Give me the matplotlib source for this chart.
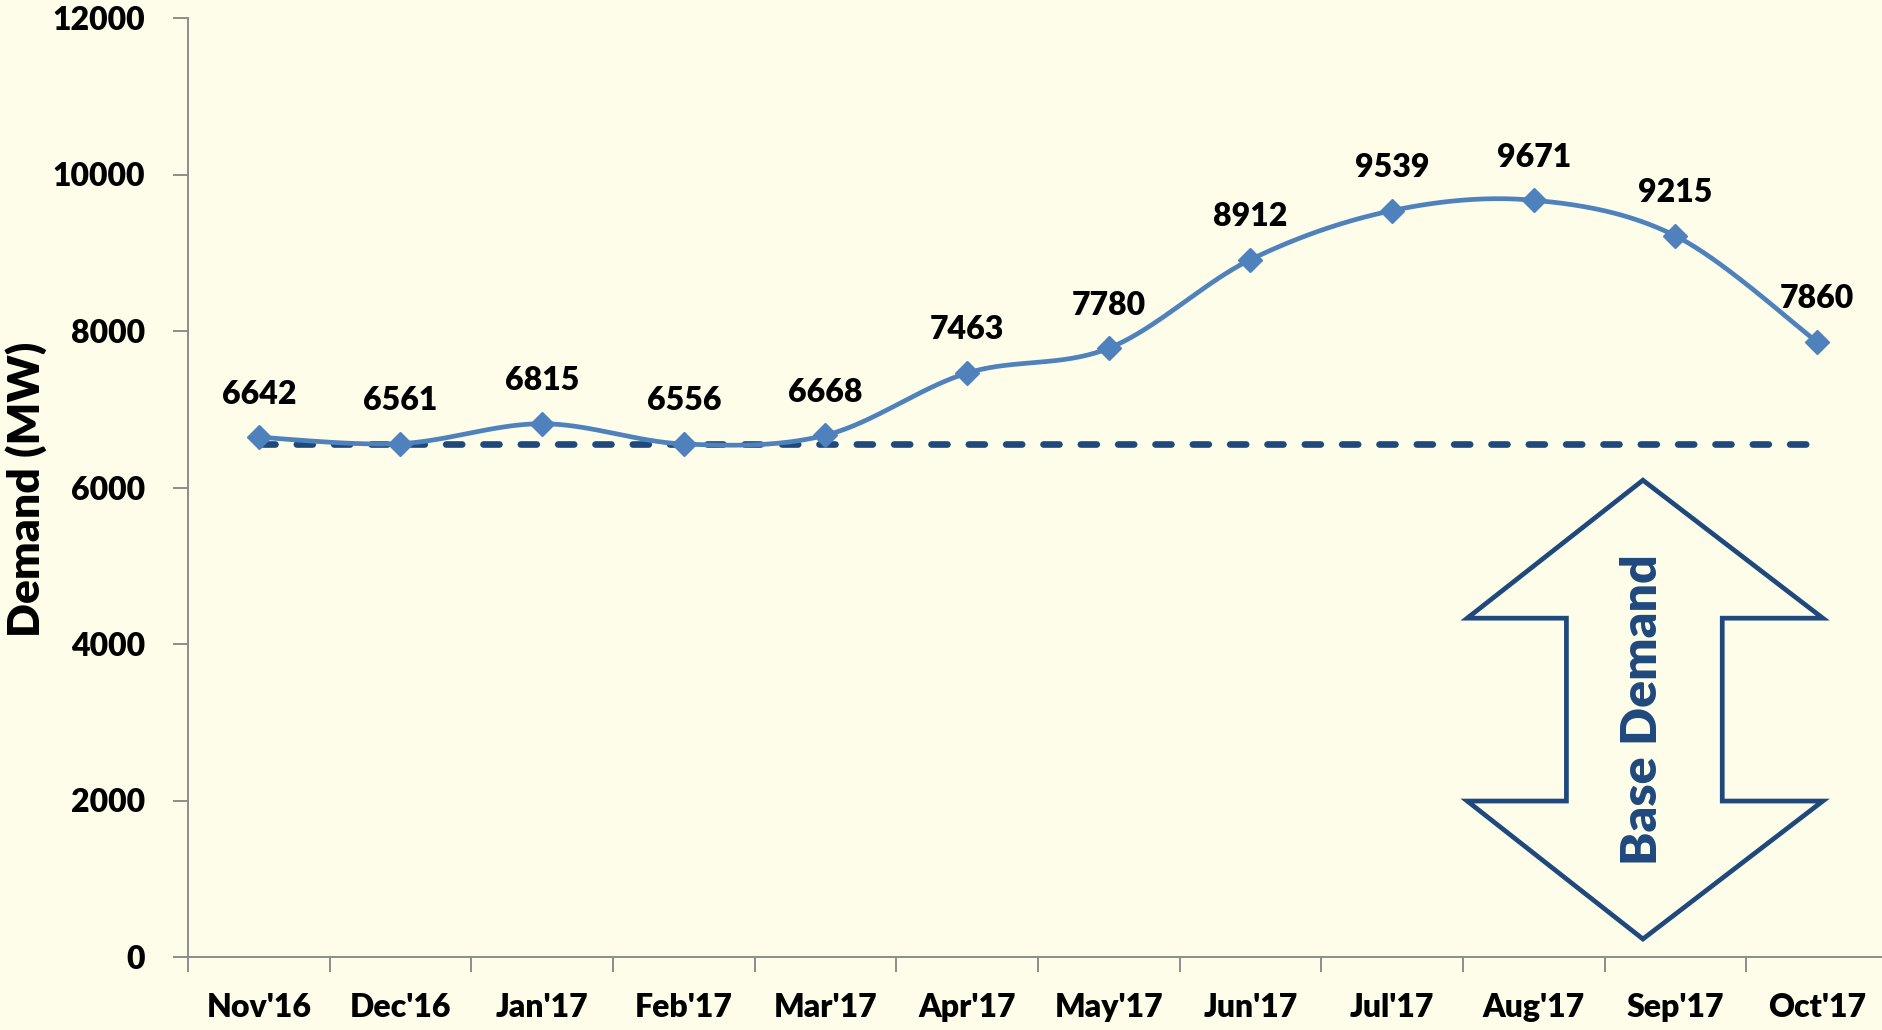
import numpy as np
import matplotlib
matplotlib.use("Agg")
import matplotlib.pyplot as plt
from matplotlib.patches import Polygon

months = ["Nov'16", "Dec'16", "Jan'17", "Feb'17", "Mar'17", "Apr'17",
          "May'17", "Jun'17", "Jul'17", "Aug'17", "Sep'17", "Oct'17"]
demand = [6642, 6561, 6815, 6556, 6668, 7463, 7780, 8912, 9539, 9671, 9215, 7860]
base_demand = 6556
y_ticks = [0, 2000, 4000, 6000, 8000, 10000, 12000]
arrow_label = "Base Demand"

BG = "#FEFDEA"
LINE = "#4F81BD"
DARK = "#1F497D"
AXC = "#8C8C8C"
FONT = ["Lato", "DejaVu Sans"]
W = "heavy"

def catmull_rom(xs, ys, n=40):
    xs = np.asarray(xs, float); ys = np.asarray(ys, float)
    px = np.concatenate([[xs[0]], xs, [xs[-1]]])
    py = np.concatenate([[ys[0]], ys, [ys[-1]]])
    ox, oy = [], []
    t = np.linspace(0, 1, n)
    for i in range(1, len(px) - 2):
        p0, p1, p2, p3 = (np.array([px[j], py[j]]) for j in range(i - 1, i + 3))
        m1 = (p2 - p0) / 2.0
        m2 = (p3 - p1) / 2.0
        h00 = 2*t**3 - 3*t**2 + 1
        h10 = t**3 - 2*t**2 + t
        h01 = -2*t**3 + 3*t**2
        h11 = t**3 - t**2
        pts = (np.outer(h00, p1) + np.outer(h10, m1) + np.outer(h01, p2) + np.outer(h11, m2))
        ox.extend(pts[:, 0]); oy.extend(pts[:, 1])
    return np.array(ox), np.array(oy)

fig = plt.figure(figsize=(18.83, 10.30), dpi=100, facecolor=BG)
ax = fig.add_axes([188/1883, 1 - 957/1030, 1700/1883, (957-18)/1030])
ax.set_facecolor(BG)

x = np.arange(len(months))
ax.set_xlim(-0.5, len(months) - 0.5)
ax.set_ylim(0, 12000)

# base demand dashed line
ax.plot([x[0], x[-1]], [base_demand, base_demand], color=DARK, lw=4.8,
        dashes=(2.4, 3.2), dash_capstyle="round", zorder=2)

sx, sy = catmull_rom(x, demand)
ax.plot(sx, sy, color=LINE, lw=3.4, zorder=3, solid_capstyle="round")
ax.plot(x, demand, linestyle="none", marker="D", ms=12, color=LINE, zorder=4)

for xi, v in zip(x, demand):
    ax.annotate(str(v), (xi, v), xytext=(0, 31), textcoords="offset points",
                ha="center", va="center", fontsize=23, fontweight=W,
                family=FONT, color="black")

# double arrow
ax_l, ax_r, ax_c = 8.53, 11.04, 9.77
sh_l, sh_r = 9.23, 10.33
top, top_sh, bot_sh, bot = 6093, 4330, 1993, 230
arrow = Polygon([(ax_c, top), (ax_r, top_sh), (sh_r, top_sh), (sh_r, bot_sh),
                 (ax_r, bot_sh), (ax_c, bot), (ax_l, bot_sh), (sh_l, bot_sh),
                 (sh_l, top_sh), (ax_l, top_sh)], closed=True,
                facecolor="none", edgecolor=DARK, lw=3.4, joinstyle="miter", zorder=2)
ax.add_patch(arrow)
ax.text(ax_c, 3167, arrow_label, rotation=90, ha="center", va="center",
        fontsize=36, fontweight=W, family=FONT, color=DARK)

ax.set_xticks(x - 0.5, minor=False)
ax.set_xticklabels([])
ax.set_xticks(x, minor=True)
ax.set_xticklabels(months, minor=True)
ax.tick_params(axis="x", which="major", length=11, width=1.4, color=AXC)
ax.tick_params(axis="x", which="minor", length=0, pad=26, labelsize=23)
ax.set_yticks(y_ticks)
ax.set_yticklabels([str(v) for v in y_ticks])
ax.tick_params(axis="y", length=11, width=1.4, color=AXC, pad=20, labelsize=23)
for lab in ax.get_xticklabels(minor=True) + ax.get_yticklabels():
    lab.set_fontweight(W); lab.set_family(FONT)

for s in ["top", "right"]:
    ax.spines[s].set_visible(False)
for s in ["left", "bottom"]:
    ax.spines[s].set_color(AXC); ax.spines[s].set_linewidth(1.4)

fig.text(26/1883, 1 - 489/1030, "Demand (MW)", rotation=90, ha="center", va="center",
         fontsize=32, fontweight=W, family=FONT, color="black")

fig.savefig("out.png", dpi=100, facecolor=BG)
